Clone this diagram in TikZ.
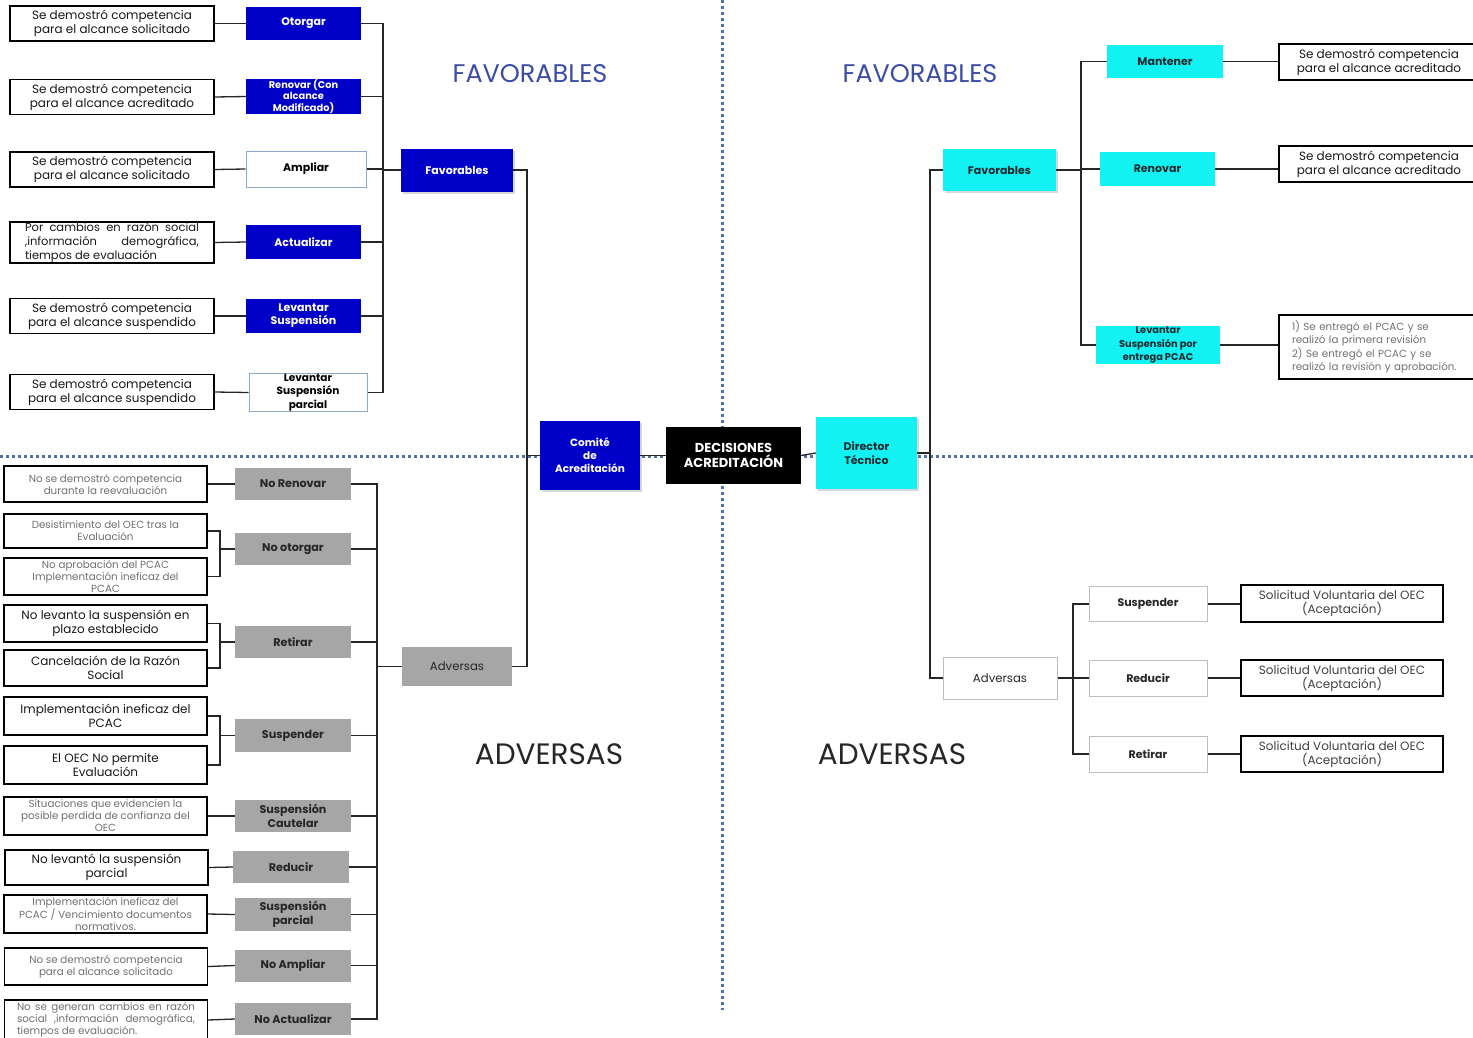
\documentclass[tikz,border=0pt]{standalone}
\usepackage{fontspec}
\setmainfont{Poppins}
\usetikzlibrary{shadows}
\definecolor{dblue}{HTML}{0000C8}
\definecolor{cyanf}{HTML}{12F2F2}
\definecolor{grayf}{HTML}{A6A6A6}
\definecolor{divc}{HTML}{5271AB}
\definecolor{titleblue}{HTML}{3A4CA8}
\definecolor{gtext}{HTML}{707070}
\definecolor{wborder}{HTML}{8EA9C8}
\definecolor{lborder}{HTML}{BDBDBD}
\definecolor{cytext}{HTML}{1C2A30}
\begin{document}
\begin{tikzpicture}[x=1pt,y=-1pt,
  bx/.style={draw=black, line width=1.3pt, fill=white, text=black!90, minimum width=204pt, minimum height=35pt, inner sep=0.5pt, align=center, font=\fontsize{12}{14}\selectfont},
  gbx/.style={bx, text=gtext, font=\fontsize{10.3}{12}\selectfont},
  blu/.style={fill=dblue, text=white, minimum width=115pt, minimum height=33pt, inner sep=0.5pt, align=center, font=\bfseries\fontsize{11}{13}\selectfont},
  wbl/.style={draw=wborder, line width=1pt, fill=white, text=black, minimum width=118pt, minimum height=35pt, inner sep=0.5pt, align=center, font=\bfseries\fontsize{11}{13}\selectfont},
  cyb/.style={fill=cyanf, text=cytext, minimum width=115pt, minimum height=34pt, inner sep=0.5pt, align=center, font=\bfseries\fontsize{11}{13}\selectfont},
  gry/.style={fill=grayf, text=black!85, minimum width=116pt, minimum height=32pt, inner sep=0.5pt, align=center, font=\bfseries\fontsize{11.2}{13.5}\selectfont},
  wgr/.style={draw=lborder, line width=1pt, fill=white, text=black!85, minimum width=118pt, minimum height=35pt, inner sep=0.5pt, align=center, font=\bfseries\fontsize{11}{13}\selectfont},
  shd/.style={drop shadow={opacity=0.3, shadow xshift=1.5pt, shadow yshift=-2pt}},
  con/.style={line width=1.3pt, draw=black!85},
  div/.style={line width=3pt, draw=divc, dash pattern=on 3pt off 3pt},
  ttl/.style={inner sep=0pt, font=\fontsize{25.5}{28}\selectfont}
]
\useasboundingbox (0,0) rectangle (1473,1037);
\fill[white] (0,0) rectangle (1473,1037);

% dividers
\draw[div] (0,456) -- (1473,456);
\draw[div] (722,0) -- (722,1010);

% titles
\node[ttl, text=titleblue] (tfl) at (530,74) {FAVORABLES};
\node[ttl, text=titleblue] (tfr) at (920,74) {FAVORABLES};
\node[ttl, text=black!85, font=\fontsize{29.5}{32}\selectfont] (tal) at (549,754) {ADVERSAS};
\node[ttl, text=black!85, font=\fontsize{29.5}{32}\selectfont] (tar) at (892,754) {ADVERSAS};

% ---------- top-left: favorables of the Comité ----------
\node[bx] (t1) at (112,23.5) {Se demostró competencia\\para el alcance solicitado};
\node[bx] (t2) at (112,97) {Se demostró competencia\\para el alcance acreditado};
\node[bx] (t3) at (112,169.5) {Se demostró competencia\\para el alcance solicitado};
\node[bx, minimum height=37pt, text width=174pt, align=justify, font=\fontsize{11.5}{14}\selectfont] (t4) at (112,242.5) {Por cambios en razón social\linebreak ,información demográfica,\linebreak tiempos de evaluación};
\node[bx] (t5) at (112,316) {Se demostró competencia\\para el alcance suspendido};
\node[bx] (t6) at (112,392) {Se demostró competencia\\para el alcance suspendido};

\node[blu] (o1) at (303.5,23.5) {Otorgar};
\node[blu, minimum height=31pt, font=\bfseries\fontsize{9.8}{11.5}\selectfont] (o2) at (303.5,96.5) {Renovar (Con\\alcance\\Modificado)};
\node[wbl, minimum width=120pt, minimum height=36pt] (o3) at (306,169) {Ampliar};
\node[blu, minimum height=34pt] (o4) at (303.5,242) {Actualizar};
\node[blu, minimum height=34pt] (o5) at (303.5,316) {Levantar\\Suspensión};
\node[wbl, font=\bfseries\fontsize{10.5}{13.5}\selectfont] (o6) at (308,392.5) {Levantar\\Suspensión\\parcial};

\node[blu, shd, minimum width=112pt, minimum height=43pt] (favL) at (457,170) {Favorables};
\node[gry, minimum width=110pt, minimum height=39pt, font=\fontsize{11.7}{13.5}\selectfont] (advL) at (457,666.5) {Adversas};

\node[blu, shd, minimum width=100pt, minimum height=69pt, font=\bfseries\fontsize{10.5}{13}\selectfont] (com) at (590,455.5) {Comité\\de\\Acreditación};
\node[fill=black, text=white, minimum width=135pt, minimum height=57pt, align=center, inner sep=0.5pt, font=\bfseries\fontsize{13}{15.5}\selectfont] (dec) at (733.5,455.5) {DECISIONES\\ACREDITACIÓN};
\node[cyb, shd, minimum width=101pt, minimum height=72pt, font=\bfseries\fontsize{11}{13.5}\selectfont] (dir) at (866.5,453) {Director\\Técnico};

% ---------- bottom-left: adversas ----------
\node[gbx, minimum width=203pt, minimum height=36pt] (a1) at (105.5,484) {No se demostró competencia\\durante la reevaluación};
\node[gbx, minimum width=203pt, minimum height=34pt] (a2) at (105.5,531) {Desistimiento del OEC tras la\\Evaluación};
\node[gbx, minimum width=203pt, minimum height=37pt] (a3) at (105.5,576.5) {No aprobación del PCAC\\Implementación ineficaz del\\PCAC};
\node[bx, minimum width=203pt, minimum height=37pt] (a4) at (105.5,623.5) {No levanto la suspensión en\\plazo establecido};
\node[bx, minimum width=203pt, minimum height=36pt] (a5) at (105.5,668) {Cancelación de la Razón\\Social};
\node[bx, minimum width=203pt, minimum height=38pt] (a6) at (105.5,716) {Implementación ineficaz del\\PCAC};
\node[bx, minimum width=203pt, minimum height=38pt] (a7) at (105.5,765) {El OEC No permite\\Evaluación};
\node[gbx, minimum width=203pt, minimum height=38pt] (a8) at (105.5,816) {Situaciones que evidencien la\\posible perdida de confianza del\\OEC};
\node[bx, minimum width=203pt, minimum height=35pt] (a9) at (106.5,867.5) {No levantó la suspensión\\parcial};
\node[gbx, minimum width=203pt, minimum height=38pt] (a10) at (105.5,914) {Implementación ineficaz del\\PCAC / Vencimiento documentos\\normativos.};
\node[gbx, minimum width=203pt, minimum height=37pt] (a11) at (106,966.5) {No se demostró competencia\\para el alcance solicitado};
\node[gbx, minimum width=203pt, minimum height=40pt, text width=178pt, align=justify] (a12) at (106,1020) {No se generan cambios en razón\linebreak social ,información demográfica,\linebreak tiempos de evaluación.};

\node[gry] (n1) at (293,484) {No Renovar};
\node[gry] (n2) at (293,549) {No otorgar};
\node[gry] (n3) at (293,642) {Retirar};
\node[gry, minimum height=33pt] (n4) at (293,735.5) {Suspender};
\node[gry] (n5) at (293,816) {Suspensión\\Cautelar};
\node[gry] (n6) at (291,867) {Reducir};
\node[gry, minimum height=33pt] (n7) at (293,914.5) {Suspensión\\parcial};
\node[gry] (n8) at (293,965.5) {No Ampliar};
\node[gry] (n9) at (293,1019) {No Actualizar};

% ---------- right: Director Técnico ----------
\node[cyb, shd, minimum width=113pt, minimum height=42pt] (favR) at (999.5,170) {Favorables};
\node[wgr, minimum width=114pt, minimum height=42pt, font=\fontsize{11.7}{13.5}\selectfont] (advR) at (1000,678) {Adversas};

\node[cyb, minimum width=116pt, minimum height=33pt] (mant) at (1165,61.5) {Mantener};
\node[cyb] (renR) at (1157.5,169) {Renovar};
\node[cyb, minimum width=124pt, minimum height=38pt, font=\bfseries\fontsize{9.8}{13.5}\selectfont] (levP) at (1158,345) {Levantar\\Suspensión por\\entrega PCAC};

\node[bx, minimum width=200pt, minimum height=36pt] (r1) at (1379,62) {Se demostró competencia\\para el alcance acreditado};
\node[bx, minimum width=200pt, minimum height=36pt] (r2) at (1379,164) {Se demostró competencia\\para el alcance acreditado};
\node[bx, minimum width=200pt, minimum height=64pt, text width=174pt, text=gtext, align=left, font=\fontsize{10.3}{13.5}\selectfont] (r3) at (1379,347) {1) Se entregó el PCAC y se\\realizó la primera revisión\\2) Se entregó el PCAC y se\\realizó la revisión y aprobación.};

\node[wgr] (susR) at (1148,604) {Suspender};
\node[wgr, minimum height=36pt] (redR) at (1148,678) {Reducir};
\node[wgr, minimum height=36pt] (retR) at (1148,754) {Retirar};
\node[bx, minimum width=202pt, minimum height=37pt, text=black!75] (s1) at (1342,603.5) {Solicitud Voluntaria del OEC\\(Aceptación)};
\node[bx, minimum width=202pt, minimum height=36pt, text=black!75] (s2) at (1342,678) {Solicitud Voluntaria del OEC\\(Aceptación)};
\node[bx, minimum width=202pt, minimum height=36pt, text=black!75] (s3) at (1342,754) {Solicitud Voluntaria del OEC\\(Aceptación)};

% bus coordinates
\coordinate (lb) at (383,170);
\coordinate (cb) at (527,456);
\coordinate (ab) at (377,667);
\coordinate (br) at (220,600);
\coordinate (db) at (930,456);
\coordinate (rb) at (1081,170);
\coordinate (rab) at (1073,678);

% ---------- connectors ----------
\draw[con] (t1.east) -- (o1.west);
\draw[con] (t2.east) -- (o2.west);
\draw[con] (t3.east) -- (o3.west);
\draw[con] (t4.east) -- (o4.west);
\draw[con] (t5.east) -- (o5.west);
\draw[con] (t6.east) -- (o6.west);
\draw[con] (o1.east) -- (o1.east -| lb) -- (o6.east -| lb) -- (o6.east);
\foreach \n in {o2,o3,o4,o5} \draw[con] (\n.east) -- (\n.east -| lb);
\draw[con] (favL.west -| lb) -- (favL.west);

\draw[con] (favL.east) -- (favL.east -| cb) -- (advL.east -| cb) -- (advL.east);
\draw[con] (com.west -| cb) -- (com.west);
\draw[con] (com.east) -- (dec.west);
\draw[con] (dec.east) -- (dir.west);

\draw[con] (n1.east) -- (n1.east -| ab) -- (n9.east -| ab) -- (n9.east);
\foreach \n in {n2,n3,n4,n5,n6,n7,n8} \draw[con] (\n.east) -- (\n.east -| ab);
\draw[con] (advL.west) -- (advL.west -| ab);

\draw[con] (a1.east) -- (n1.west);
\draw[con] (a2.east) -- (a2.east -| br) -- (a3.east -| br) -- (a3.east);
\draw[con] (n2.west -| br) -- (n2.west);
\draw[con] (a4.east) -- (a4.east -| br) -- (a5.east -| br) -- (a5.east);
\draw[con] (n3.west -| br) -- (n3.west);
\draw[con] (a6.east) -- (a6.east -| br) -- (a7.east -| br) -- (a7.east);
\draw[con] (n4.west -| br) -- (n4.west);
\draw[con] (a8.east) -- (n5.west);
\draw[con] (a9.east) -- (n6.west);
\draw[con] (a10.east) -- (n7.west);
\draw[con] (a11.east) -- (n8.west);
\draw[con] (a12.east) -- (n9.west);

\draw[con] (dir.east) -- (dir.east -| db);
\draw[con] (favR.west) -- (favR.west -| db) -- (advR.west -| db) -- (advR.west);

\draw[con] (favR.east) -- (favR.east -| rb);
\draw[con] (mant.west) -- (mant.west -| rb) -- (levP.west -| rb) -- (levP.west);
\draw[con] (renR.west -| rb) -- (renR.west);
\draw[con] (mant.east) -- (mant.east -| r1.west);
\draw[con] (renR.east) -- (renR.east -| r2.west);
\draw[con] (levP.east) -- (levP.east -| r3.west);

\draw[con] (advR.east) -- (redR.west);
\draw[con] (susR.west) -- (susR.west -| rab) -- (retR.west -| rab) -- (retR.west);
\draw[con] (susR.east) -- (susR.east -| s1.west);
\draw[con] (redR.east) -- (s2.west);
\draw[con] (retR.east) -- (s3.west);
\end{tikzpicture}
\end{document}
